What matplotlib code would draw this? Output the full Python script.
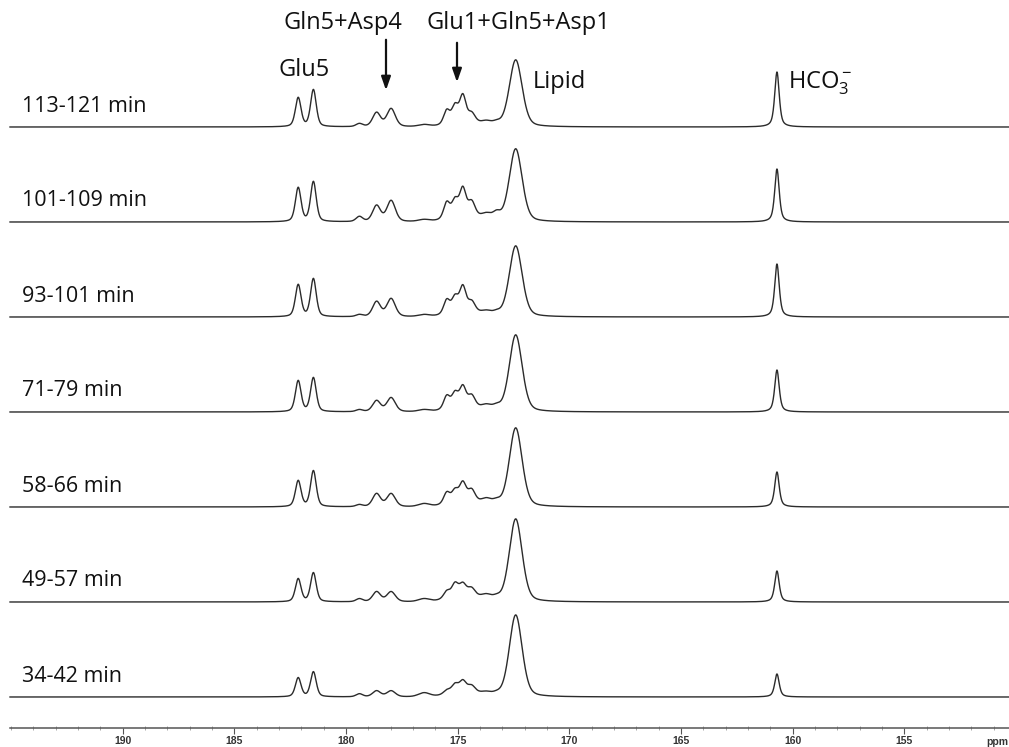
import numpy as np
import matplotlib
matplotlib.use("Agg")
import matplotlib.pyplot as plt
from matplotlib.ticker import MultipleLocator, FixedLocator

W, H, DPI = 1009, 747, 100

# ---------------- data ----------------
trace_labels = ["113-121 min", "101-109 min", "93-101 min", "71-79 min",
                "58-66 min", "49-57 min", "34-42 min"]

# peak centres (ppm), widths (ppm, FWHM) and Lorentzian fraction
peak_ppm  = [182.14, 181.46, 179.40, 178.63, 177.98, 176.50,
             175.49, 175.12, 174.77, 174.37, 174.80, 173.70, 173.25, 172.40, 160.70]
peak_fwhm = [0.30, 0.30, 0.35, 0.42, 0.45, 0.60,
             0.32, 0.32, 0.32, 0.36, 1.30, 0.55, 0.40, 0.68, 0.24]
peak_eta  = [0.4, 0.4, 0.3, 0.35, 0.35, 0.2,
             0.3, 0.3, 0.3, 0.3, 0.0, 0.2, 0.3, 0.3, 0.6]

# heights per trace (top → bottom), in the chart's intensity units
glu5_a   = [29, 34, 32, 31, 26, 23, 19]
glu5_b   = [37, 40, 38, 34, 36, 29, 25]
bump_179 = [3, 5, 2, 2, 2, 3, 3]
gln5     = [14, 16, 15, 11, 13, 10, 6]
asp4     = [18, 21, 18, 14, 13, 10, 6]
bump_176 = [2, 2, 2, 2, 3, 3, 4]
glu1_a   = [13, 15, 13, 12, 10, 6, 3]
glu1_b   = [15, 14, 13, 12, 9, 10, 6]
glu1_c   = [24, 24, 22, 17, 15, 8, 8]
glu1_d   = [8, 13, 9, 10, 10, 6, 5]
glu1_hump = [7, 9, 8, 8, 9, 10, 8]
tail_a   = [4, 6, 4, 5, 6, 5, 3]
tail_b   = [3, 7, 3, 4, 4, 3, 2]
lipid    = [67, 73, 71, 77, 79, 83, 82]
hco3     = [55, 53, 53, 42, 35, 31, 23]

peak_heights = [glu5_a, glu5_b, bump_179, gln5, asp4, bump_176,
                glu1_a, glu1_b, glu1_c, glu1_d, glu1_hump, tail_a, tail_b,
                lipid, hco3]

tick_major = [190, 185, 180, 175, 170, 165, 160, 155]

# ---------------- layout ----------------
PX_PER_PPM = 22.33
PPM_AT_X0 = 190 + 122.7 / PX_PER_PPM
PPM_AT_XW = 190 - (W - 122.7) / PX_PER_PPM
first_base = 127.0
spacing = 95.0
trace_left_ppm = 190 + (122.7 - 10) / PX_PER_PPM

plt.rcParams['mathtext.fontset'] = 'custom'
plt.rcParams['mathtext.rm'] = 'Open Sans'
plt.rcParams['mathtext.it'] = 'Open Sans'

fig = plt.figure(figsize=(W / DPI, H / DPI), dpi=DPI)
ax = fig.add_axes([0, 0, 1, 1])
ax.set_xlim(PPM_AT_X0, PPM_AT_XW)
ax.set_ylim(H, 0)
ax.axis('off')


def pseudo_voigt(x, x0, fwhm, eta):
    hw = fwhm / 2.0
    u = (x - x0) / hw
    return eta / (1 + u ** 2) + (1 - eta) * np.exp(-np.log(2) * u ** 2)


def px2ppm(x):
    return 190 - (x - 122.7) / PX_PER_PPM


ppm = np.linspace(trace_left_ppm, PPM_AT_XW, 4000)
line_col = '#2b2b2b'
for i, lab in enumerate(trace_labels):
    base = first_base + i * spacing
    spec = np.zeros_like(ppm)
    for p0, fw, eta, hs in zip(peak_ppm, peak_fwhm, peak_eta, peak_heights):
        spec += hs[i] * pseudo_voigt(ppm, p0, fw, eta)
    ax.plot(ppm, base - spec, color=line_col, lw=1.0)
    ax.text(px2ppm(22), base - 21, lab, fontsize=15.5,
            family='Open Sans', color='#111111', ha='left', va='center')

txt_kw = dict(fontsize=17, family='Open Sans', color='#111111', va='center')
ax.text(px2ppm(278), 70, "Glu5", ha='left', **txt_kw)
ax.text(px2ppm(283), 23, "Gln5+Asp4", ha='left', **txt_kw)
ax.text(px2ppm(427), 23, "Glu1+Gln5+Asp1", ha='left', **txt_kw)
ax.text(px2ppm(533), 82, "Lipid", ha='left', **txt_kw)
ax.text(px2ppm(788), 83, r"HCO$_3^-$", ha='left', **txt_kw)

arrow_kw = dict(arrowstyle='-|>,head_length=0.8,head_width=0.28', color='#111111', lw=1.6)
ax.annotate("", xy=(px2ppm(386), 93), xytext=(px2ppm(386), 37), arrowprops=arrow_kw)
ax.annotate("", xy=(px2ppm(457), 85), xytext=(px2ppm(457), 40), arrowprops=arrow_kw)

# ppm axis
axb = fig.add_axes([10 / W, (H - 728) / H, (W - 10) / W, 0.0001])
axb.set_xlim(trace_left_ppm, PPM_AT_XW)
axb.set_yticks([])
for s in ['left', 'right', 'top']:
    axb.spines[s].set_visible(False)
axb.spines['bottom'].set_color('#555555')
axb.spines['bottom'].set_linewidth(1.1)
axb.patch.set_alpha(0)
axb.xaxis.set_major_locator(FixedLocator(tick_major))
axb.xaxis.set_minor_locator(MultipleLocator(1))
axb.tick_params(axis='x', which='major', direction='out', length=4, width=0.8,
                color='#555555', labelsize=7.5, pad=2, labelcolor='#333333')
axb.tick_params(axis='x', which='minor', direction='inout', length=3, width=0.6,
                color='#999999')
for t in axb.get_xticklabels():
    t.set_fontweight('bold')
    t.set_family('Liberation Sans')
fig.text(1008 / W, (H - 742) / H, "ppm", fontsize=7.5, fontweight='bold',
         family='Liberation Sans', color='#333333', ha='right', va='center')

fig.savefig("out.png", dpi=DPI)
